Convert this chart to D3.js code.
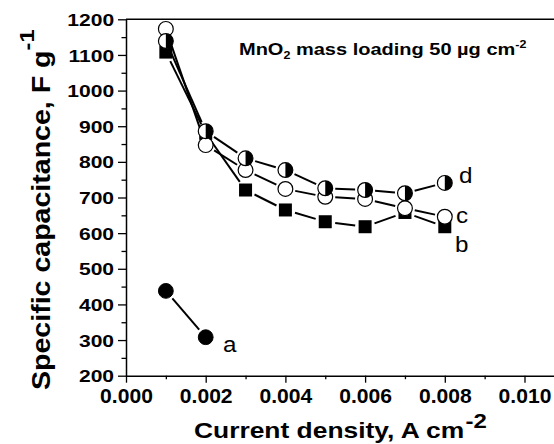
<!DOCTYPE html>
<html><head><meta charset="utf-8">
<script src="https://cdn.jsdelivr.net/npm/d3@7"></script>
<style>
html,body{margin:0;padding:0;background:#fff;}
svg{display:block;font-family:"Liberation Sans",Arial,sans-serif;}
</style></head>
<body>
<svg id="chart" width="554" height="444"></svg>
<script>
// ---- data ----
const xValues = [0.001, 0.002, 0.003, 0.004, 0.005, 0.006, 0.007, 0.008];
const seriesA = [438, 308];                                   // a: filled circles
const seriesB = [1108, 880, 721, 665, 632, 618, 658, 618];    // b: filled squares
const seriesC = [1173, 847, 777, 724, 702, 696, 670, 646];    // c: open circles
const seriesD = [1139, 886, 810, 777, 726, 721, 712, 741];    // d: half-filled circles
const xTickValues = [0, 0.002, 0.004, 0.006, 0.008, 0.010];
const xMinorTicks = [0.001, 0.003, 0.005, 0.007, 0.009];
const yTickValues = [200, 300, 400, 500, 600, 700, 800, 900, 1000, 1100, 1200];
const yMinorTicks = [250, 350, 450, 550, 650, 750, 850, 950, 1050, 1150];
const seriesLabels = ["a", "b", "c", "d"];

// ---- layout ----
const svg = d3.select("#chart");
const L = 126, T = 19.3, B = 375.7;
const x = d3.scaleLinear().domain([0, 0.011]).range([L, L + 11 * 39.85]);
const y = d3.scaleLinear().domain([200, 1200]).range([B, T]);
const FONT = '"Liberation Sans", Arial, sans-serif';

// top frame line
svg.append("line").attr("x1", L).attr("x2", 554).attr("y1", T).attr("y2", T)
  .attr("stroke", "#000").attr("stroke-width", 1.5);

// y axis
const gy = svg.append("g").attr("transform", `translate(${L},0)`)
  .call(d3.axisLeft(y).tickValues(yTickValues).tickSize(8).tickSizeOuter(0).tickFormat(d3.format("d")));
gy.select(".domain").attr("stroke-width", 1.5);
gy.selectAll(".tick line").attr("stroke-width", 1.3);
gy.selectAll("text").attr("x", -9.6).attr("dy", "0.36em")
  .attr("transform", "scale(1.24,1)")
  .style("font-family", FONT).style("font-size", "17px").style("font-weight", "bold").attr("fill", "#000");
const gym = svg.append("g").attr("transform", `translate(${L},0)`)
  .call(d3.axisLeft(y).tickValues(yMinorTicks).tickSize(4.5).tickSizeOuter(0).tickFormat(""));
gym.select(".domain").remove();
gym.selectAll(".tick line").attr("stroke-width", 1.3);

// x axis
const gx = svg.append("g").attr("transform", `translate(0,${B})`)
  .call(d3.axisBottom(x).tickValues(xTickValues).tickSize(7).tickSizeOuter(0).tickFormat(d3.format(".3f")));
gx.select(".domain").attr("stroke-width", 1.5);
gx.selectAll(".tick line").attr("stroke-width", 1.3);
gx.selectAll("text").attr("y", 27.3).attr("dy", null)
  .attr("transform", "scale(1.03,1)")
  .style("font-family", FONT).style("font-size", "20.5px").style("font-weight", "bold").attr("fill", "#000");
const gxm = svg.append("g").attr("transform", `translate(0,${B})`)
  .call(d3.axisBottom(x).tickValues(xMinorTicks).tickSize(3.5).tickSizeOuter(0).tickFormat(""));
gxm.select(".domain").remove();
gxm.selectAll(".tick line").attr("stroke-width", 1.3);

// axis titles
const xt = svg.append("text").attr("transform", "translate(194,438) scale(1.2,1)")
  .style("font-family", FONT).style("font-size", "22px").style("font-weight", "bold");
xt.append("tspan").text("Current density, A cm");
xt.append("tspan").attr("dy", -10).attr("dx", 1).style("font-size", "20px").text("-2");

const yt = svg.append("text").attr("transform", "translate(50,390) rotate(-90) scale(1.12,1)")
  .style("font-family", FONT).style("font-size", "25.5px").style("font-weight", "bold");
yt.append("tspan").text("Specific capacitance, F g");
yt.append("tspan").attr("dy", -16).attr("dx", 0).style("font-size", "21px").text("-1");

// annotation
const an = svg.append("text").attr("transform", "translate(239,55) scale(1.25,1)")
  .style("font-family", FONT).style("font-size", "16px").style("font-weight", "bold");
an.append("tspan").text("MnO");
an.append("tspan").attr("dy", 4).style("font-size", "10px").text("2");
an.append("tspan").attr("dy", -4).text(" mass loading 50 µg cm");
an.append("tspan").attr("dy", -7).style("font-size", "10px").text("-2");

// ---- series ----
const R = 7.4, SQ = 13, GAP = 10;
function drawSegments(xs, vals) {
  const pts = vals.map((v, i) => [x(xs[i]), y(v)]);
  for (let i = 0; i < pts.length - 1; i++) {
    const [x1, y1] = pts[i], [x2, y2] = pts[i + 1];
    const dx = x2 - x1, dy = y2 - y1, len = Math.hypot(dx, dy);
    if (len <= 2 * GAP) continue;
    const ux = dx / len, uy = dy / len;
    svg.append("line")
      .attr("x1", x1 + ux * GAP).attr("y1", y1 + uy * GAP)
      .attr("x2", x2 - ux * GAP).attr("y2", y2 - uy * GAP)
      .attr("stroke", "#000").attr("stroke-width", 2);
  }
  return pts;
}
// lines first
drawSegments(xValues.slice(0, 2), seriesA);
drawSegments(xValues, seriesB);
drawSegments(xValues, seriesC);
drawSegments(xValues, seriesD);

// markers
const mk = svg.append("g");
seriesA.forEach((v, i) => mk.append("circle").attr("cx", x(xValues[i])).attr("cy", y(v)).attr("r", R)
  .attr("fill", "#000").attr("stroke", "#000"));
seriesB.forEach((v, i) => mk.append("rect").attr("x", x(xValues[i]) - SQ / 2).attr("y", y(v) - SQ / 2)
  .attr("width", SQ).attr("height", SQ).attr("fill", "#000"));
seriesC.forEach((v, i) => mk.append("circle").attr("cx", x(xValues[i])).attr("cy", y(v)).attr("r", R)
  .attr("fill", "#fff").attr("stroke", "#000").attr("stroke-width", 1.2));
seriesD.forEach((v, i) => {
  const g = mk.append("g").attr("transform", `translate(${x(xValues[i])},${y(v)})`);
  g.append("circle").attr("r", R).attr("fill", "#fff");
  g.append("path").attr("d", `M0,${-R} A${R},${R} 0 0 1 0,${R} Z`).attr("fill", "#000");
  g.append("circle").attr("r", R).attr("fill", "none").attr("stroke", "#000").attr("stroke-width", 1.2);
});

// series labels
const labelPos = [[223, 352], [455, 252], [456, 223], [459, 183]];
seriesLabels.forEach((s, i) => {
  svg.append("text").attr("transform", `translate(${labelPos[i][0]},${labelPos[i][1]}) scale(1.1,1)`)
    .style("font-family", FONT).style("font-size", "22px").text(s);
});
</script>
</body></html>
